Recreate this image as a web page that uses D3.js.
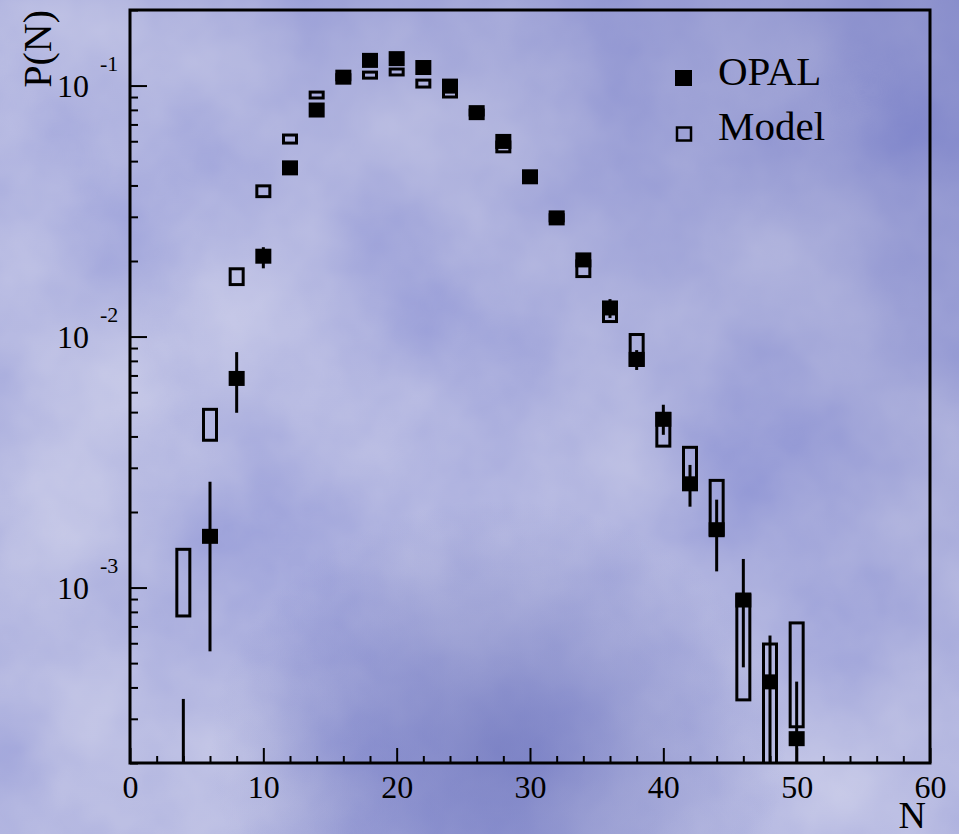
<!DOCTYPE html>
<html>
<head>
<meta charset="utf-8">
<script src="https://cdn.jsdelivr.net/npm/d3@7"></script>
<style>
  html, body { margin: 0; padding: 0; background: #8a8fc8; }
  svg { display: block; }
  text { font-family: "Liberation Serif", "DejaVu Serif", serif; fill: #000; }
</style>
</head>
<body>
<script>
// ---- data ----
const categories = [4, 6, 8, 10, 12, 14, 16, 18, 20, 22, 24, 26, 28, 30, 32, 34, 36, 38, 40, 42, 44, 46, 48, 50];
const opalValues = [1.5e-4, 1.60e-3, 6.81e-3, 0.0209, 0.0470, 0.0799, 0.108, 0.126, 0.128, 0.118, 0.0995, 0.078, 0.0599, 0.0433, 0.0297, 0.0202, 0.0130, 0.00811, 0.00468, 0.00259, 0.00170, 8.92e-4, 4.21e-4, 2.50e-4];
const opalLow  = [5e-5, 5.57e-4, 4.97e-3, 0.0187, 0.0470, 0.0799, 0.108, 0.126, 0.128, 0.118, 0.0995, 0.078, 0.0599, 0.0433, 0.0297, 0.0202, 0.01186, 0.00736, 0.00406, 0.00210, 0.00116, 4.81e-4, 1e-4, 1e-4];
const opalHigh = [3.6e-4, 2.64e-3, 8.67e-3, 0.0227, 0.0470, 0.0799, 0.108, 0.126, 0.128, 0.118, 0.0995, 0.078, 0.0599, 0.0433, 0.0297, 0.0202, 0.0141, 0.00883, 0.00535, 0.00308, 0.00224, 1.30e-3, 6.44e-4, 4.22e-4];
const modelLow  = [7.60e-4, 3.81e-3, 0.01589, 0.0356, 0.0582, 0.0880, 0.104, 0.1056, 0.1087, 0.0973, 0.0888, 0.0753, 0.0537, 0.0415, 0.0285, 0.0171, 0.01132, 0.00757, 0.00361, 0.00243, 0.00160, 3.52e-4, 1e-4, 2.75e-4];
const modelHigh = [1.44e-3, 5.20e-3, 0.01888, 0.0404, 0.0644, 0.0955, 0.112, 0.1147, 0.118, 0.1066, 0.0973, 0.081, 0.0604, 0.0455, 0.031, 0.0203, 0.01358, 0.01033, 0.00501, 0.00367, 0.00271, 9.46e-4, 6.04e-4, 7.33e-4];
const xMajorTicks = [0, 10, 20, 30, 40, 50, 60];
const yMajorTicks = [1e-1, 1e-2, 1e-3];
const yTickExponents = ["-1", "-2", "-3"];
const seriesNames = ["OPAL", "Model"];

// ---- layout ----
const W = 959, H = 834;
const L = 130, R = 930, T = 10, B = 763;

const svg = d3.select("body").append("svg").attr("width", W).attr("height", H);
const defs = svg.append("defs");

// cloudy blue background
const f = defs.append("filter").attr("id", "clouds")
  .attr("x", 0).attr("y", 0).attr("width", "100%").attr("height", "100%")
  .attr("filterUnits", "userSpaceOnUse");
f.append("feTurbulence").attr("type", "fractalNoise").attr("baseFrequency", "0.0045")
  .attr("numOctaves", 5).attr("seed", 7).attr("result", "n");
f.append("feColorMatrix").attr("type", "matrix").attr("in", "n")
  .attr("values", "0.50 0 0 0 0.22  0.48 0 0 0 0.25  0.22 0 0 0 0.66  0 0 0 0 1");

const lg = defs.append("linearGradient").attr("id", "band")
  .attr("x1", "0").attr("y1", "1").attr("x2", "1").attr("y2", "0");
lg.append("stop").attr("offset", "0").attr("stop-color", "#a3a6d4").attr("stop-opacity", 0.2);
lg.append("stop").attr("offset", "0.45").attr("stop-color", "#a9acd8").attr("stop-opacity", 0.2);
lg.append("stop").attr("offset", "0.75").attr("stop-color", "#6a70bb").attr("stop-opacity", 0.3);
lg.append("stop").attr("offset", "1").attr("stop-color", "#5a61b3").attr("stop-opacity", 0.5);

const rg = defs.append("radialGradient").attr("id", "darkspot")
  .attr("cx", "0.52").attr("cy", "0.9").attr("r", "0.3");
rg.append("stop").attr("offset", "0").attr("stop-color", "#4b54ab").attr("stop-opacity", 0.5);
rg.append("stop").attr("offset", "1").attr("stop-color", "#4b54ab").attr("stop-opacity", 0);

svg.append("rect").attr("width", W).attr("height", H).attr("filter", "url(#clouds)");
svg.append("rect").attr("width", W).attr("height", H).attr("fill", "url(#band)");
svg.append("rect").attr("width", W).attr("height", H).attr("fill", "url(#darkspot)");

defs.append("clipPath").attr("id", "plotclip").append("rect")
  .attr("x", L).attr("y", T).attr("width", R - L).attr("height", B - T);

// ---- scales ----
const x = d3.scaleLinear().domain([0, 60]).range([L, R]);
const y = d3.scaleLog().domain([2e-4, 0.2]).range([B, T]);

// ---- axes ----
const xMinor = d3.range(0, 61, 2).filter(v => v % 10 !== 0);
svg.append("g").attr("transform", `translate(0,${B})`)
  .call(d3.axisBottom(x).tickValues(xMinor).tickSize(-7).tickFormat(""))
  .call(g => g.select(".domain").remove())
  .call(g => g.selectAll("line").attr("stroke", "#000").attr("stroke-width", 2));
svg.append("g").attr("transform", `translate(0,${B})`)
  .call(d3.axisBottom(x).tickValues(xMajorTicks).tickSize(-15).tickPadding(0).tickFormat(d3.format("d")))
  .call(g => g.select(".domain").remove())
  .call(g => g.selectAll("line").attr("stroke", "#000").attr("stroke-width", 2))
  .call(g => g.selectAll("text").attr("y", 35).attr("dy", 0)
      .style("font-family", "'Liberation Serif', serif").style("font-size", "32px").attr("fill", "#000"));

const yMinor = [];
[1e-4, 1e-3, 1e-2, 1e-1].forEach(d => { for (let k = 2; k <= 9; k++) { const v = d * k; if (v >= 2e-4 && v <= 0.2) yMinor.push(v); } });
svg.append("g").attr("transform", `translate(${L},0)`)
  .call(d3.axisLeft(y).tickValues(yMinor).tickSize(-8).tickFormat(""))
  .call(g => g.select(".domain").remove())
  .call(g => g.selectAll("line").attr("stroke", "#000").attr("stroke-width", 2));
svg.append("g").attr("transform", `translate(${L},0)`)
  .call(d3.axisLeft(y).tickValues(yMajorTicks).tickSize(-17).tickFormat(""))
  .call(g => g.select(".domain").remove())
  .call(g => g.selectAll("line").attr("stroke", "#000").attr("stroke-width", 2));

yMajorTicks.forEach((v, i) => {
  svg.append("text").attr("x", 89).attr("y", y(v) + 11).attr("text-anchor", "end")
    .style("font-size", "32px").text("10");
  svg.append("text").attr("x", 100).attr("y", y(v) - 15).attr("text-anchor", "start")
    .style("font-size", "22px").text(yTickExponents[i]);
});

// frame
svg.append("rect").attr("x", L).attr("y", T).attr("width", R - L).attr("height", B - T)
  .attr("fill", "none").attr("stroke", "#000").attr("stroke-width", 3);

// axis titles
svg.append("text").attr("transform", `translate(51,${T}) rotate(-90)`).attr("text-anchor", "end")
  .style("font-size", "40px").text("P(N)");
svg.append("text").attr("x", 926).attr("y", 828).attr("text-anchor", "end")
  .style("font-size", "38px").text("N");

// ---- marks ----
const plot = svg.append("g").attr("clip-path", "url(#plotclip)");
const data = categories.map((n, i) => ({
  n, v: opalValues[i], lo: opalLow[i], hi: opalHigh[i], mlo: modelLow[i], mhi: modelHigh[i]
}));

// model boxes
plot.selectAll("rect.model").data(data).join("rect").attr("class", "model")
  .attr("x", d => x(d.n) - 6.5).attr("width", 13)
  .attr("y", d => y(d.mhi) + 1.5).attr("height", d => Math.max(1, y(d.mlo) - y(d.mhi) - 3))
  .attr("fill", "none").attr("stroke", "#000").attr("stroke-width", 3);

// OPAL error bars
plot.selectAll("line.err").data(data.filter(d => d.hi > d.lo)).join("line").attr("class", "err")
  .attr("x1", d => x(d.n)).attr("x2", d => x(d.n))
  .attr("y1", d => y(d.hi)).attr("y2", d => y(d.lo))
  .attr("stroke", "#000").attr("stroke-width", 3);

// OPAL squares
plot.selectAll("rect.opal").data(data).join("rect").attr("class", "opal")
  .attr("x", d => x(d.n) - 8).attr("y", d => y(d.v) - 7.5)
  .attr("width", 16).attr("height", 15).attr("fill", "#000");

// ---- legend ----
const leg = svg.append("g");
leg.append("rect").attr("x", 675).attr("y", 70).attr("width", 17).attr("height", 16).attr("fill", "#000");
leg.append("text").attr("x", 718).attr("y", 85).style("font-size", "41px").text(seriesNames[0]);
leg.append("rect").attr("x", 677).attr("y", 127.5).attr("width", 14).attr("height", 13)
  .attr("fill", "none").attr("stroke", "#000").attr("stroke-width", 2.5);
leg.append("text").attr("x", 718).attr("y", 140).style("font-size", "41px").text(seriesNames[1]);
</script>
</body>
</html>
